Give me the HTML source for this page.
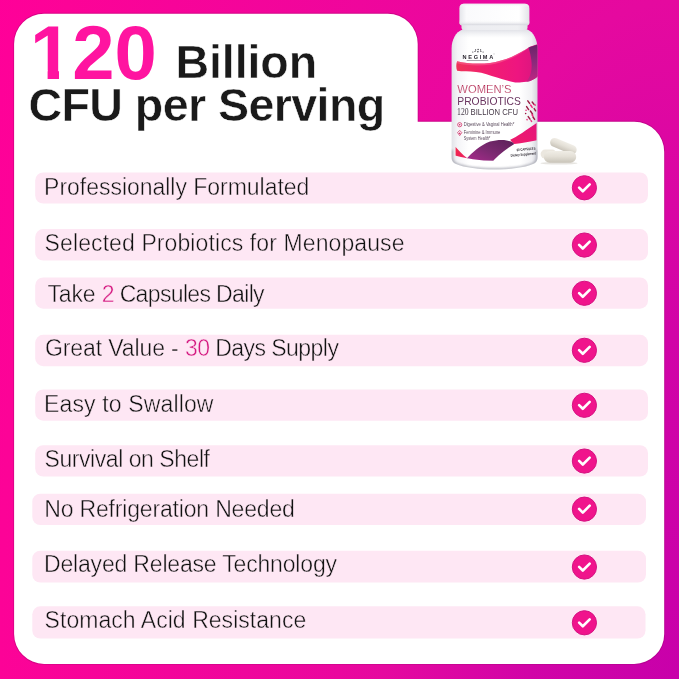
<!DOCTYPE html>
<html lang="en">
<head>
<meta charset="utf-8">
<title>120 Billion CFU per Serving</title>
<style>
  html, body { margin: 0; padding: 0; }
  body {
    width: 679px; height: 679px; overflow: hidden; position: relative;
    font-family: "Liberation Sans", sans-serif;
    background: #f0059b;
  }
  .bg { position: absolute; left: 0; top: 0; width: 679px; height: 679px;
        background: radial-gradient(ellipse 679px 1560px at 679px 679px, #c800aa 0%, #d104a7 22%, #e5099f 43.5%, #ea079e 50%, #fc0397 100%, #ff0099 110%); }
  .art { position: absolute; left: 0; top: 0; width: 679px; height: 679px; will-change: transform; }
  .txt { position: absolute; left: 0; top: 0; width: 679px; height: 679px; will-change: transform; }
  .h { position: absolute; white-space: nowrap; font-weight: bold; line-height: 1; margin: 0; }
  .h1a { left: 30px; top: 15px;  font-size: 76px; color: #ff14a0; }
  .one { display: inline-block; clip-path: polygon(0 0, 100% 0, 100% 55.4px, 29px 55.4px, 29px 100%, 17.6px 100%, 17.6px 55.4px, 0 55.4px); }
  .h1b { left: 175.4px; top: 38.5px; font-size: 46.6px; letter-spacing: -0.1px; color: #1a1a1a; -webkit-text-stroke: 0.5px #fff; }
  .h2  { left: 28.4px; top: 82px;  font-size: 46.6px; color: #1a1a1a; letter-spacing: -0.58px; -webkit-text-stroke: 0.5px #fff; }
  .t { position: absolute; line-height: 31px; font-size: 23px; color: #111111; white-space: nowrap; -webkit-text-stroke: 0.45px #fee7f4; }
  .t b { font-weight: normal; color: #d4177f; }
</style>
</head>
<body>
<div class="bg"></div>
<svg class="art" viewBox="0 0 679 679">
<path fill="#ffffff" stroke="#8f0060" stroke-opacity="0.32" stroke-width="1.7" paint-order="stroke fill" d="M14.1 43.7 A30 30 0 0 1 44.1 13.7 H387.7 A30 30 0 0 1 417.7 43.7 V121.7 H634.2 A30 30 0 0 1 664.2 151.7 V633.9 A30 30 0 0 1 634.2 663.9 H44.1 A30 30 0 0 1 14.1 633.9 Z"/>
<rect x="35.2" y="172.4" width="612.8" height="31.20" rx="8" fill="#fee7f4"/>
<g transform="translate(584.40 187.80)"><circle r="12.1" fill="#f0148c" stroke="#d51281" stroke-width="1"/><path d="M-5.3 -0.25 L-1.6 3.45 L5.3 -3.45" fill="none" stroke="#fff" stroke-width="2.6" stroke-linecap="round" stroke-linejoin="round"/></g>
<rect x="35.2" y="229.1" width="612.8" height="31.40" rx="8" fill="#fee7f4"/>
<g transform="translate(584.40 245.05)"><circle r="12.1" fill="#f0148c" stroke="#d51281" stroke-width="1"/><path d="M-5.3 -0.25 L-1.6 3.45 L5.3 -3.45" fill="none" stroke="#fff" stroke-width="2.6" stroke-linecap="round" stroke-linejoin="round"/></g>
<rect x="35.2" y="277.4" width="612.8" height="31.30" rx="8" fill="#fee7f4"/>
<g transform="translate(584.40 293.30)"><circle r="12.1" fill="#f0148c" stroke="#d51281" stroke-width="1"/><path d="M-5.3 -0.25 L-1.6 3.45 L5.3 -3.45" fill="none" stroke="#fff" stroke-width="2.6" stroke-linecap="round" stroke-linejoin="round"/></g>
<rect x="35.2" y="334.8" width="612.8" height="31.40" rx="8" fill="#fee7f4"/>
<g transform="translate(584.40 350.30)"><circle r="12.1" fill="#f0148c" stroke="#d51281" stroke-width="1"/><path d="M-5.3 -0.25 L-1.6 3.45 L5.3 -3.45" fill="none" stroke="#fff" stroke-width="2.6" stroke-linecap="round" stroke-linejoin="round"/></g>
<rect x="35.2" y="389.4" width="612.8" height="31.30" rx="8" fill="#fee7f4"/>
<g transform="translate(584.40 405.30)"><circle r="12.1" fill="#f0148c" stroke="#d51281" stroke-width="1"/><path d="M-5.3 -0.25 L-1.6 3.45 L5.3 -3.45" fill="none" stroke="#fff" stroke-width="2.6" stroke-linecap="round" stroke-linejoin="round"/></g>
<rect x="35.2" y="445.2" width="612.8" height="31.30" rx="8" fill="#fee7f4"/>
<g transform="translate(584.40 461.05)"><circle r="12.1" fill="#f0148c" stroke="#d51281" stroke-width="1"/><path d="M-5.3 -0.25 L-1.6 3.45 L5.3 -3.45" fill="none" stroke="#fff" stroke-width="2.6" stroke-linecap="round" stroke-linejoin="round"/></g>
<rect x="32.3" y="493.7" width="613.7" height="31.35" rx="8" fill="#fee7f4"/>
<g transform="translate(584.40 509.15)"><circle r="12.1" fill="#f0148c" stroke="#d51281" stroke-width="1"/><path d="M-5.3 -0.25 L-1.6 3.45 L5.3 -3.45" fill="none" stroke="#fff" stroke-width="2.6" stroke-linecap="round" stroke-linejoin="round"/></g>
<rect x="32.3" y="550.7" width="613.7" height="31.80" rx="8" fill="#fee7f4"/>
<g transform="translate(584.40 567.05)"><circle r="12.1" fill="#f0148c" stroke="#d51281" stroke-width="1"/><path d="M-5.3 -0.25 L-1.6 3.45 L5.3 -3.45" fill="none" stroke="#fff" stroke-width="2.6" stroke-linecap="round" stroke-linejoin="round"/></g>
<rect x="32.3" y="606.3" width="613.2" height="32.20" rx="8" fill="#fee7f4"/>
<g transform="translate(584.40 622.80)"><circle r="12.1" fill="#f0148c" stroke="#d51281" stroke-width="1"/><path d="M-5.3 -0.25 L-1.6 3.45 L5.3 -3.45" fill="none" stroke="#fff" stroke-width="2.6" stroke-linecap="round" stroke-linejoin="round"/></g>
</svg>

<div class="txt">
<div class="h h1a"><span class="one">1</span>20</div>
<div class="h h1b">Billion</div>
<div class="h h2">CFU per Serving</div>

<div class="t" style="left:44.1px;top:172px;letter-spacing:-0.025px">Professionally Formulated</div>
<div class="t" style="left:44.6px;top:228px;letter-spacing:0.1px">Selected Probiotics for Menopause</div>
<div class="t" style="left:47.4px;top:279px;letter-spacing:-0.65px"><span style="letter-spacing:-0.12px">Take </span><b>2</b> Capsules Daily</div>
<div class="t" style="left:45.0px;top:333px;letter-spacing:-0.55px"><span style="letter-spacing:-0.11px">Great Value - </span><b>30</b> Days Supply</div>
<div class="t" style="left:44.0px;top:389px;letter-spacing:0.14px">Easy to Swallow</div>
<div class="t" style="left:44.6px;top:444px;letter-spacing:-0.45px">Survival on Shelf</div>
<div class="t" style="left:44.2px;top:494px;letter-spacing:-0.17px">No Refrigeration Needed</div>
<div class="t" style="left:44.0px;top:549px;letter-spacing:-0.18px">Delayed Release Technology</div>
<div class="t" style="left:44.6px;top:605px;letter-spacing:0.04px">Stomach Acid Resistance</div>
</div>

<svg class="art" viewBox="0 0 679 679" font-family="'Liberation Sans', sans-serif">
  <defs>
    <linearGradient id="gBody" x1="0" y1="0" x2="1" y2="0">
      <stop offset="0" stop-color="#e2e3e8"/>
      <stop offset="0.07" stop-color="#f4f4f7"/>
      <stop offset="0.2" stop-color="#ffffff"/>
      <stop offset="0.8" stop-color="#ffffff"/>
      <stop offset="0.93" stop-color="#f1f1f4"/>
      <stop offset="1" stop-color="#d4d5dc"/>
    </linearGradient>
    <linearGradient id="gCap" x1="0" y1="0" x2="1" y2="0">
      <stop offset="0" stop-color="#e4e5ea"/>
      <stop offset="0.1" stop-color="#fafafc"/>
      <stop offset="0.85" stop-color="#ffffff"/>
      <stop offset="1" stop-color="#e2e3e8"/>
    </linearGradient>
    <linearGradient id="gCapV" x1="0" y1="0" x2="0" y2="1">
      <stop offset="0" stop-color="#e9e9ee" stop-opacity="0.9"/>
      <stop offset="0.15" stop-color="#ffffff" stop-opacity="0"/>
      <stop offset="0.75" stop-color="#ffffff" stop-opacity="0"/>
      <stop offset="1" stop-color="#cfd0d8" stop-opacity="0.9"/>
    </linearGradient>
    <linearGradient id="gNeck" x1="0" y1="0" x2="0" y2="1">
      <stop offset="0" stop-color="#d9dae1" stop-opacity="0.9"/>
      <stop offset="1" stop-color="#e8e9ee" stop-opacity="0"/>
    </linearGradient>
    <linearGradient id="gBot" x1="0" y1="0" x2="0" y2="1">
      <stop offset="0" stop-color="#c9cad2" stop-opacity="0"/>
      <stop offset="1" stop-color="#b9bac4" stop-opacity="0.85"/>
    </linearGradient>
    <linearGradient id="gPink" x1="0" y1="0" x2="1" y2="0">
      <stop offset="0" stop-color="#ee3558"/>
      <stop offset="0.35" stop-color="#f21f70"/>
      <stop offset="0.75" stop-color="#ee1580"/>
      <stop offset="1" stop-color="#d8157f"/>
    </linearGradient>
    <linearGradient id="gPurpV" x1="0" y1="0" x2="0" y2="1">
      <stop offset="0" stop-color="#6a2468"/>
      <stop offset="0.5" stop-color="#8c2a7c"/>
      <stop offset="1" stop-color="#c22583"/>
    </linearGradient>
    <linearGradient id="gPurp2" x1="0" y1="1" x2="1" y2="0">
      <stop offset="0" stop-color="#b32a92"/>
      <stop offset="0.5" stop-color="#7d2a72"/>
      <stop offset="1" stop-color="#5a2058"/>
    </linearGradient>
    <linearGradient id="gRed" x1="0" y1="0" x2="1" y2="1">
      <stop offset="0" stop-color="#f2274a"/>
      <stop offset="1" stop-color="#e81c6c"/>
    </linearGradient>
    <linearGradient id="gMag" x1="0" y1="1" x2="1" y2="0">
      <stop offset="0" stop-color="#f01c6a"/>
      <stop offset="1" stop-color="#e4157e"/>
    </linearGradient>
    <linearGradient id="gPill" x1="0" y1="0" x2="0" y2="1">
      <stop offset="0" stop-color="#f0ede6"/>
      <stop offset="0.45" stop-color="#e4e0d7"/>
      <stop offset="1" stop-color="#c8c3b8"/>
    </linearGradient>
    <filter id="fBlur" x="-10%" y="-50%" width="120%" height="200%"><feGaussianBlur stdDeviation="0.9"/></filter>
    <clipPath id="cLabel"><path d="M451 0 H536.5 V154.7 Q494.5 167 451 154.5 Z"/></clipPath>
    <clipPath id="cBody">
      <path d="M463 29.5 C455.5 32 451.6 40 451.6 48.5 L451.6 157 C451.6 161 453 162.6 456 164 C472 171.3 517 171.3 533 164 C536 162.6 537.5 161 537.5 157 L537.5 48.5 C537.5 40 533.5 32 527 29.5 Z"/>
    </clipPath>
  </defs>

  <!-- capsules -->
  <g>
    <ellipse cx="559" cy="163.2" rx="18.5" ry="1.4" fill="#d3cfc8" opacity="0.55"/>
    <rect x="540.6" y="149.6" width="16" height="9" rx="4.5" fill="#ebe7df"/>
    <g transform="rotate(22.5 563.4 146.1)">
      <rect x="549.4" y="141.6" width="28" height="9" rx="4.5" fill="url(#gPill)"/>
    </g>
    <rect x="543.8" y="151" width="32.4" height="11.8" rx="5.9" fill="url(#gPill)"/>
  </g>

  <!-- bottle body -->
  <path d="M463 29.5 C455.5 32 451.6 40 451.6 48.5 L451.6 157 C451.6 161 453 162.6 456 164 C472 171.3 517 171.3 533 164 C536 162.6 537.5 161 537.5 157 L537.5 48.5 C537.5 40 533.5 32 527 29.5 Z" fill="url(#gBody)"/>
  <g clip-path="url(#cBody)">
    <path d="M451.6 150 L451.6 157 C451.6 161 453 162.6 456 164 C472 171.3 517 171.3 533 164 C536 162.6 537.5 161 537.5 157 L537.5 150" fill="none" stroke="#a9aab4" stroke-width="3" opacity="0.85" filter="url(#fBlur)"/>
    <!-- shoulder shading -->
    <rect x="451" y="29" width="88" height="9" fill="url(#gNeck)"/>

    <!-- upper ribbon -->
    <path d="M457.1 61.2 C465 63.3 478 64.3 490 63 C505 61 519 54.2 529.9 46.8 L538 44 L538 76.2 C534 79.5 530.5 81.2 526.4 81.8 C522 82.6 518 82.6 515.2 82.5 C509 81.4 503.5 79.6 497 77.6 C490 75.4 483 72.6 476 72 C469 71.4 462 71.6 457.1 70.8 C456 67.8 456 64 457.1 61.2 Z" fill="url(#gPink)"/>
    <path d="M528.5 47.5 L538 44.5 L538 76.2 C534 79.5 530.5 81.2 526.4 81.8 C531.5 75.5 534.2 66 528.5 47.5 Z" fill="url(#gPurpV)"/>
    <path d="M457.1 61.2 C465 63.3 478 64.3 490 63 C505 61 519 54.2 529.9 46.8 C519 55.4 505 62.6 490 64.7 C478 66.1 465 65.2 457.1 63.2 Z" fill="#f7668f" opacity="0.55"/>

    <!-- lower ribbon -->
    <g clip-path="url(#cLabel)">
    <path d="M455.6 147 C458.5 150 462 154.6 467 158 L472 163 L455.6 163 Z" fill="url(#gRed)"/>
    <path d="M510.2 139.8 C517 136.8 527 129.5 538 122 L538 140 C531 141.6 523 143 514.3 144 C512.6 142.6 511.5 141.4 510.2 139.8 Z" fill="url(#gMag)"/>
    <path d="M466.5 158.8 C472 153 480 145.2 490 141.6 C498 139.4 506 139.6 511 141.6 C512.2 142.2 513.4 143 514.3 144 C507 148.5 500 153.5 494.4 159.4 L491 164 L464 164 L466.5 158.8 Z" fill="url(#gPurp2)"/>
    </g>
  </g>

  <!-- cap -->
  <rect x="461.6" y="23.6" width="65.8" height="6.4" rx="2" fill="#dfe0e6"/>
  <rect x="461.6" y="23.6" width="65.8" height="6.4" rx="2" fill="url(#gCap)" opacity="0.5"/>
  <path d="M459.4 8.4 Q459.4 3.8 464 3.8 L524.8 3.8 Q529.4 3.8 529.4 8.4 L529.4 22.4 Q529.4 25.2 526.6 25.2 L462.2 25.2 Q459.4 25.2 459.4 22.4 Z" fill="url(#gCap)"/>
  <path d="M459.4 8.4 Q459.4 3.8 464 3.8 L524.8 3.8 Q529.4 3.8 529.4 8.4 L529.4 22.4 Q529.4 25.2 526.6 25.2 L462.2 25.2 Q459.4 25.2 459.4 22.4 Z" fill="url(#gCapV)"/>

  <!-- logo -->
  <g fill="#2c2832">
    <circle cx="475.6" cy="49.9" r="0.6"/><circle cx="478.1" cy="49.5" r="0.65"/><circle cx="480.6" cy="49.9" r="0.6"/>
    <circle cx="472.8" cy="52" r="0.55"/><circle cx="475" cy="51.5" r="0.6"/><circle cx="477.9" cy="51.7" r="0.7"/><circle cx="480.9" cy="51.5" r="0.6"/><circle cx="483.1" cy="52" r="0.55"/>
  </g>
  <text x="462.6" y="58.8" font-size="5.6" font-weight="bold" fill="#2c2832" textLength="30.6" lengthAdjust="spacing">NEGIMA</text>
  <text x="493.4" y="55.4" font-size="1.8" fill="#2c2832">®</text>
  <rect x="466.7" y="60.35" width="21.6" height="0.5" fill="#55505c"/>

  <!-- product name -->
  <text x="457.3" y="93.3" font-size="10.6" fill="#b32650" stroke="#ffffff" stroke-width="0.18" textLength="54.3" lengthAdjust="spacingAndGlyphs">WOMEN’S</text>
  <text x="457.3" y="104.5" font-size="11" fill="#6a3560" textLength="63.6" lengthAdjust="spacingAndGlyphs">PROBIOTICS</text>
  <text x="457.1" y="115.1" font-size="10.4" fill="#463a48" font-family="'Liberation Serif', serif" textLength="11.5" lengthAdjust="spacingAndGlyphs">120</text>
  <text x="470.6" y="115.1" font-size="8.3" fill="#463a48" textLength="47.4" lengthAdjust="spacingAndGlyphs">BILLION CFU</text>

  <!-- capsule pattern -->
  <g stroke-linecap="round" stroke-width="1.45" fill="none">
    <g stroke="#9c1c44">
      <path d="M527.8 100.8 L529.6 103.4"/><path d="M532.2 102 L534 104.4"/><path d="M526.6 106.6 L528.6 109.6"/>
      <path d="M530.4 111 L532.6 114.2"/><path d="M534.2 108.6 L535.6 110.8"/><path d="M525.6 113.4 L525.7 113.5"/>
      <path d="M528.2 116.6 L530 119.2"/><path d="M533 117 L534.6 119.4"/>
    </g>
    <g stroke="#ee2a7b">
      <path d="M530.6 105 L532.2 107.4"/><path d="M534.8 104.6 L535.2 105.2"/><path d="M526 110.2 L526.1 110.3"/>
      <path d="M532 114.8 L533 116.2"/><path d="M527 119.6 L527.1 119.7"/><path d="M531 120.6 L531.6 121.4"/>
    </g>
  </g>

  <!-- bullets -->
  <g fill="none" stroke="#d01f5c" stroke-width="0.7">
    <circle cx="459.7" cy="124.7" r="2.1"/>
    <path d="M459.7 130.4 L461.8 132.6 L459.7 135.6 L457.6 132.6 Z"/>
  </g>
  <circle cx="459.7" cy="124.7" r="0.8" fill="#d01f5c"/>
  <circle cx="459.7" cy="133.2" r="0.8" fill="#d01f5c"/>
  <g fill="#5a4a5c" font-size="4.6">
    <text x="463.7" y="126.2" textLength="50.6" lengthAdjust="spacingAndGlyphs">Digestive &amp; Vaginal Health*</text>
    <text x="463.7" y="134.4" textLength="36.7" lengthAdjust="spacingAndGlyphs">Feminine &amp; Immune</text>
    <text x="463.7" y="140.3" textLength="26.7" lengthAdjust="spacingAndGlyphs">System Health*</text>
  </g>
  <g fill="#2e2a32" font-weight="bold" transform="rotate(-5 535 150)">
    <text x="516.6" y="149.6" font-size="3.6" textLength="19" lengthAdjust="spacingAndGlyphs">60 CAPSULES</text>
    <text x="510.2" y="154.6" font-size="3.6" textLength="25.4" lengthAdjust="spacingAndGlyphs">Dietary Supplement</text>
  </g>
</svg>

</body>
</html>
